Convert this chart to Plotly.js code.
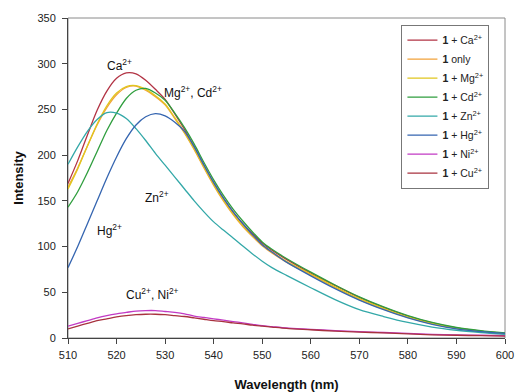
<!DOCTYPE html>
<html>
<head>
<meta charset="utf-8">
<script src="https://cdn.plot.ly/plotly-3.0.1.min.js"></script>
<style>html,body{margin:0;padding:0;background:#fff;}#chart{width:515px;height:392px;}</style>
</head>
<body>
<div id="chart"></div>
<script>
// Wavelength nodes (nm)
const wavelength = [510,512,514,516,518,520,522,524,526,528,530,532,534,536,538,540,542,544,546,548,550,552,555,560,565,570,575,580,585,590,595,600];

// Intensities
const ca   = [169,194,222,249,270,284,290,289,282,272,261,245,228,209,189,170,153,138,125,114,104,96,86,71,57.5,44.5,33.5,24,16.5,11,7.5,5];
const only = [165,186,210,233,252,266,274,275.5,271,264,255,240,224,206,186,167,150,135,122,111,101,93,83,69,55,42,31.5,22.5,15.5,10.5,7,4.5];
const mg   = [163,185,210,234,254,268,275,276,272,265,256,241,225,207,187,168,151,136,123,112,102,94,84,70,56,43,32.5,23,16,11,7.5,5];
const cd   = [143,160,181,204,227,246,262,271,273,268,260,246,230,212,192,173,156,141,128,116,105,97,87,72,58,45,34,24.5,17,11.5,8,5.5];
const zn   = [190,209,226,239,246.5,246,240,229,216,202,189,176,163,150,138,127,118,109.5,100.5,92,84,77,68.5,55,42,31,23.5,17,12,8.5,6,4];
const hg   = [77,100,125,150,175,198,218,233,242,245.5,243,236,226,209,189,170,153,138,125,113,102,94,83,68,54,41.5,31,22,15,10,7,5];
const ni   = [13,16,19,22,24.5,26.5,28,29.5,30,30,29,28,26.5,24,22.5,21,19.5,18,16.5,15,13.5,12.5,11,9.5,8,7,6,5,4,3.5,3,2.5];
const cu   = [10,13,16,19,21,23,24.5,25.5,26,26,25.5,24.5,23.5,22,20.5,19,18,16.5,15.5,14,13,12,10.5,9,7.5,6.5,5.5,4.5,3.5,3,2.5,2];

const seriesNames = ["<b>1</b> + Ca<sup>2+</sup>","<b>1</b> only","<b>1</b> + Mg<sup>2+</sup>","<b>1</b> + Cd<sup>2+</sup>","<b>1</b> + Zn<sup>2+</sup>","<b>1</b> + Hg<sup>2+</sup>","<b>1</b> + Ni<sup>2+</sup>","<b>1</b> + Cu<sup>2+</sup>"];
const seriesValues = [ca, only, mg, cd, zn, hg, ni, cu];
const seriesColors = ["#b23344","#f2a23a","#e0c61e","#2f9e3e","#33a8a8","#3565b0","#c23ac4","#a8323f"];

const xTicks = [510,520,530,540,550,560,570,580,590,600];
const yTicks = [0,50,100,150,200,250,300,350];

const labelText = ["Ca<sup>2+</sup>","Mg<sup>2+</sup>, Cd<sup>2+</sup>","Zn<sup>2+</sup>","Hg<sup>2+</sup>","Cu<sup>2+</sup>, Ni<sup>2+</sup>"];
const labelX = [520.6, 535.8, 528.3, 518.6, 527.4];
const labelY = [299, 269.5, 154.5, 118, 48];

const traces = seriesValues.map((v, i) => ({
  x: wavelength, y: v, type: "scatter", mode: "lines", name: seriesNames[i],
  line: {color: seriesColors[i], width: 1.3, shape: "spline", smoothing: 0.8}
}));

const font = "Liberation Sans, Arial, sans-serif";
const layout = {
  width: 515, height: 392,
  margin: {l: 68, r: 10, t: 18, b: 54},
  paper_bgcolor: "#fff", plot_bgcolor: "#fff",
  font: {family: font, size: 11, color: "#222"},
  showlegend: true,
  legend: {x: 0.763, y: 0.979, xanchor: "left", yanchor: "top", bgcolor: "#fff",
           bordercolor: "#777", borderwidth: 1, font: {family: font, size: 10.5, color: "#222"},
           tracegroupgap: 0, itemwidth: 30},
  xaxis: {range: [510, 600], tickvals: xTicks, ticktext: xTicks.map(String), showgrid: false, zeroline: false,
          showline: true, linecolor: "#444", linewidth: 1, ticks: "outside", ticklen: 5, tickcolor: "#444",
          ticklabelstandoff: 2,
          tickfont: {size: 11, color: "#222"},
          title: {text: "<b>Wavelength (nm)</b>", font: {size: 13, color: "#111"}, standoff: 20}},
  yaxis: {range: [0, 350], tickvals: yTicks, ticktext: yTicks.map(String), showgrid: false, zeroline: false,
          showline: true, linecolor: "#444", linewidth: 1, ticks: "outside", ticklen: 5, tickcolor: "#444",
          ticklabelstandoff: 4,
          tickfont: {size: 11, color: "#222"},
          title: {text: "<b>Intensity</b>", font: {size: 13, color: "#111"}, standoff: 10}},
  shapes: [{type: "rect", xref: "paper", yref: "paper", x0: 0, x1: 1, y0: 0, y1: 1,
            line: {color: "#8a8a8a", width: 1}, layer: "below"}],
  annotations: labelText.map((t, i) => ({x: labelX[i], y: labelY[i], text: t, showarrow: false,
            font: {family: font, size: 12, color: "#111"}, xanchor: "center", yanchor: "middle"}))
};

Plotly.newPlot("chart", traces, layout, {displayModeBar: false, staticPlot: true});
</script>
</body>
</html>
